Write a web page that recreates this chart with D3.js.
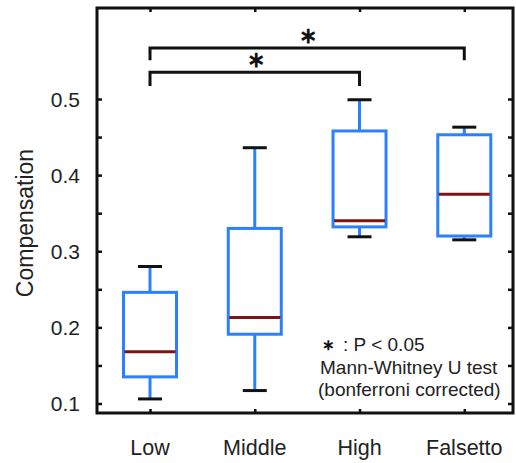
<!DOCTYPE html>
<html>
<head>
<meta charset="utf-8">
<script src="https://cdn.jsdelivr.net/npm/d3@7"></script>
<style>
  body { margin: 0; background: #fff; }
  text { font-family: Arial, "Liberation Sans", sans-serif; }
</style>
</head>
<body>
<div id="chart"></div>
<script>
// データ
var categories = ["Low", "Middle", "High", "Falsetto"];
var whiskerLow  = [0.106, 0.117, 0.319, 0.315];
var q1          = [0.135, 0.191, 0.332, 0.320];
var median      = [0.168, 0.213, 0.340, 0.375];
var q3          = [0.246, 0.330, 0.458, 0.453];
var whiskerHigh = [0.280, 0.436, 0.499, 0.463];
var yTicks = [0.1, 0.2, 0.3, 0.4, 0.5];
var yMinorTicks = [0.1, 0.15, 0.2, 0.25, 0.3, 0.35, 0.4, 0.45, 0.5];
// 有意差の括弧 [from, to, 高さ, 先端]
var brackets = [
  {from: 0, to: 3, level: 0.567, tip: 0.551},
  {from: 0, to: 2, level: 0.535, tip: 0.517}
];

var width = 516, height = 463;
var mLeft = 97, mRight = 513, mTop = 8, mBottom = 413;
var blue = "#2b80fb", red = "#7d1414";

var svg = d3.select("#chart").append("svg")
  .attr("width", width)
  .attr("height", height);

var x = d3.scaleLinear().domain([-0.506, 3.465]).range([mLeft, mRight]);
var y = d3.scaleLinear().domain([0.1, 0.5]).range([403.5, 99]);

function tickStyle(g){
  g.select(".domain").remove();
  g.selectAll("line").attr("stroke", "#111").attr("stroke-width", 2.5);
}

// 目盛（内向き）
svg.append("g").attr("transform", "translate(" + mLeft + ",0)")
  .call(d3.axisRight(y).tickValues(yMinorTicks).tickSize(5).tickFormat(""))
  .call(tickStyle);
svg.append("g").attr("transform", "translate(" + mRight + ",0)")
  .call(d3.axisLeft(y).tickValues(yMinorTicks).tickSize(5).tickFormat(""))
  .call(tickStyle);
svg.append("g").attr("transform", "translate(0," + mBottom + ")")
  .call(d3.axisTop(x).tickValues(d3.range(categories.length)).tickSize(4).tickFormat(""))
  .call(tickStyle);
svg.append("g").attr("transform", "translate(0," + mTop + ")")
  .call(d3.axisBottom(x).tickValues(d3.range(categories.length)).tickSize(4).tickFormat(""))
  .call(tickStyle);

// 目盛ラベル
svg.selectAll(".ylab").data(yTicks).enter().append("text")
  .attr("x", 80)
  .attr("y", function(d){ return y(d); })
  .attr("dy", "0.36em")
  .attr("text-anchor", "end")
  .attr("font-size", "21px")
  .attr("fill", "#222")
  .text(function(d){ return d3.format(".1f")(d); });

svg.selectAll(".xlab").data(categories).enter().append("text")
  .attr("x", function(d, i){ return x(i); })
  .attr("y", 455)
  .attr("text-anchor", "middle")
  .attr("font-size", "21.5px")
  .attr("fill", "#222")
  .text(function(d){ return d; });

svg.append("text")
  .attr("transform", "translate(33,223) rotate(-90)")
  .attr("text-anchor", "middle")
  .attr("font-size", "23px")
  .attr("fill", "#222")
  .text("Compensation");

// 箱ひげ
var boxes = svg.selectAll(".box").data(categories).enter().append("g").attr("class", "box");
var boxW = 53, capW = 24;

boxes.append("line")
  .attr("x1", function(d, i){ return x(i); })
  .attr("x2", function(d, i){ return x(i); })
  .attr("y1", function(d, i){ return y(whiskerLow[i]); })
  .attr("y2", function(d, i){ return y(whiskerHigh[i]); })
  .attr("stroke", blue).attr("stroke-width", 3);

boxes.append("rect")
  .attr("x", function(d, i){ return x(i) - boxW/2; })
  .attr("y", function(d, i){ return y(q3[i]); })
  .attr("width", boxW)
  .attr("height", function(d, i){ return y(q1[i]) - y(q3[i]); })
  .attr("fill", "#fff")
  .attr("stroke", blue).attr("stroke-width", 3);

boxes.append("line")
  .attr("x1", function(d, i){ return x(i) - boxW/2 + 1; })
  .attr("x2", function(d, i){ return x(i) + boxW/2 - 1; })
  .attr("y1", function(d, i){ return y(median[i]); })
  .attr("y2", function(d, i){ return y(median[i]); })
  .attr("stroke", red).attr("stroke-width", 3);

[whiskerLow, whiskerHigh].forEach(function(arr){
  boxes.append("line")
    .attr("x1", function(d, i){ return x(i) - capW/2; })
    .attr("x2", function(d, i){ return x(i) + capW/2; })
    .attr("y1", function(d, i){ return y(arr[i]); })
    .attr("y2", function(d, i){ return y(arr[i]); })
    .attr("stroke", "#111").attr("stroke-width", 3);
});

// 枠
svg.append("rect")
  .attr("x", mLeft).attr("y", mTop)
  .attr("width", mRight - mLeft).attr("height", mBottom - mTop)
  .attr("fill", "none").attr("stroke", "#111").attr("stroke-width", 3);

// 有意差
brackets.forEach(function(b){
  svg.append("path")
    .attr("d", "M" + x(b.from) + "," + y(b.tip) + "V" + y(b.level) + "H" + x(b.to) + "V" + y(b.tip))
    .attr("fill", "none").attr("stroke", "#111").attr("stroke-width", 3);
  svg.append("text")
    .attr("x", (x(b.from) + x(b.to)) / 2 + 1)
    .attr("y", y(b.level) - 5)
    .attr("text-anchor", "middle")
    .attr("font-size", "22px")
    .attr("font-weight", "bold")
    .attr("fill", "#111")
    .text("\u2217");
});

// 注釈
svg.append("text").attr("x", 328).attr("y", 350).attr("text-anchor", "middle")
  .attr("font-size", "15px").attr("font-weight", "bold").attr("fill", "#111").text("\u2217");
svg.append("text").attr("x", 343).attr("y", 351)
  .attr("font-size", "19px").attr("fill", "#222").text(": P < 0.05");
svg.append("text").attr("x", 320).attr("y", 374)
  .attr("font-size", "19px").attr("fill", "#222").text("Mann-Whitney U test");
svg.append("text").attr("x", 318).attr("y", 396)
  .attr("font-size", "19px").attr("fill", "#222").text("(bonferroni corrected)");
</script>
</body>
</html>
